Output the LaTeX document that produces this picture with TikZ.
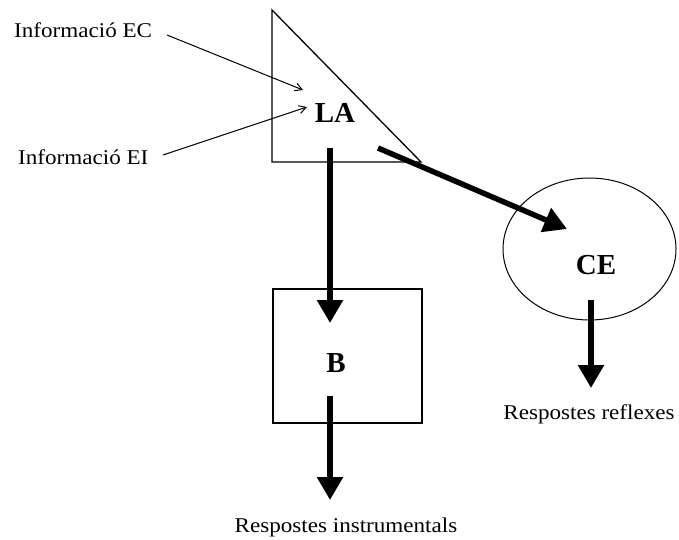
\documentclass[tikz,border=0pt]{standalone}
\usepackage{fontspec}
\setmainfont{Liberation Serif}
\newfontfamily\widefont{Liberation Serif}[FakeStretch=1.1]
\usetikzlibrary{arrows.meta,shapes.geometric}
\begin{document}
\begin{tikzpicture}[x=1pt,y=-1pt,
  thin arrow/.style={line width=1pt, -{Straight Barb[length=7pt,width=8pt]}},
  thick arrow/.style={line width=5.5pt, -{Triangle[length=23pt,width=25pt]}},
  label text/.style={font=\widefont\fontsize{21}{25}\selectfont, inner sep=0pt},
  key text/.style={font=\bfseries\fontsize{29}{34}\selectfont, inner sep=0pt},
  outline/.style={draw, line width=1.3pt}]
\useasboundingbox (0,0) rectangle (679,539);

% learning area (triangle)
\coordinate (tri-top) at (272,10);
\coordinate (tri-bl) at (272,162);
\coordinate (tri-br) at (421,162);
\draw[outline, line join=miter] (tri-top) -- (tri-bl) -- (tri-br) -- cycle;
\node[key text, anchor=base] (LA) at (335,122) {LA};

% behaviour box
\node[outline, minimum width=149pt, minimum height=134pt, inner sep=0pt] (boxB) at (347.5,356) {};
\node[key text, anchor=base] (B) at (336,372) {B};

% conditioned emotion (ellipse)
\node[draw, line width=1pt, ellipse, minimum width=173pt, minimum height=142pt, inner sep=0pt] (ellCE) at (589.5,249) {};
\node[key text, anchor=base] (CE) at (596,274) {CE};

% input labels
\node[label text, anchor=base west] (infoEC) at (14,37) {Informació EC};
\node[label text, anchor=base west] (infoEI) at (18,164) {Informació EI};

% output labels
\node[label text, anchor=base] (outInstr) at (346,532) {Respostes instrumentals};
\node[label text, anchor=base] (outRefl) at (589,419) {Respostes reflexes};

% connector end points
\coordinate (ec-from) at (167,35);
\coordinate (ec-to) at (303,90);
\coordinate (ei-from) at (163,155);
\coordinate (ei-to) at (307,107);
\coordinate (la-down) at (330,148);
\coordinate (b-in) at (330,323);
\coordinate (b-down) at (330,396);
\coordinate (b-out) at (330,500);
\coordinate (la-right) at (378,148);
\coordinate (ce-in) at (567,229);
\coordinate (ce-down) at (591,300);
\coordinate (ce-out) at (591,388);

% information inputs
\draw[thin arrow] (ec-from) -- (ec-to);
\draw[thin arrow] (ei-from) -- (ei-to);

% main pathways
\draw[thick arrow] (la-down) -- (b-in);
\draw[thick arrow] (b-down) -- (b-out);
\draw[thick arrow] (la-right) -- (ce-in);
\draw[thick arrow] (ce-down) -- (ce-out);
\end{tikzpicture}
\end{document}
